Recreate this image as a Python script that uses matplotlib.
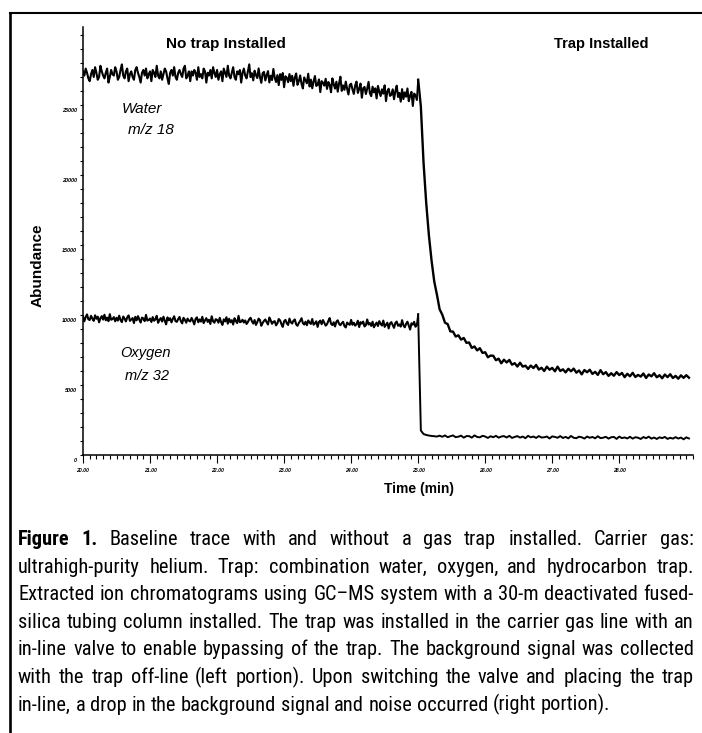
import os
import numpy as np
import matplotlib
matplotlib.use('Agg')
import matplotlib.pyplot as plt
import matplotlib.transforms as mtransforms
from matplotlib.lines import Line2D
from matplotlib.ticker import MultipleLocator
from matplotlib import font_manager
from matplotlib.font_manager import FontProperties

W, H = 702, 733

# scan times (min): trap off-line (every 0.02 min), then trap in-line (every 0.04 min)
t_pre = np.linspace(20.0, 24.98, 250)
t_post = np.linspace(25.0, 29.04, 102)

# m/z 18 (water) abundance
water_pre = [
    27400, 27100, 27600, 27300, 26900, 26700, 27200, 27500, 27000, 27700,
    27300, 26800, 27000, 27800, 27400, 27100, 26900, 27300, 27600, 26600,
    27000, 27500, 27200, 27100, 27700, 27400, 26800, 27000, 27500, 27900,
    27100, 26900, 27400, 27600, 26700, 27200, 27400, 27000, 26800, 27500,
    27700, 27300, 27000, 26600, 27300, 27500, 27100, 27600, 26900, 27200,
    27400, 26700, 27500, 27300, 27000, 27800, 27100, 26900, 27400, 26800,
    27200, 27600, 27400, 26900, 26500, 27300, 27500, 27100, 27700, 27000,
    26800, 27300, 27500, 27200, 27000, 27600, 27800, 26900, 27100, 27400,
    26700, 27400, 27100, 27500, 27300, 26800, 27700, 27000, 27200, 26900,
    27600, 27400, 26600, 27300, 27100, 27500, 26900, 27700, 27300, 27000,
    27500, 26800, 27200, 27400, 26700, 27600, 27300, 27000, 27800, 27100,
    26900, 27300, 27700, 27000, 26800, 27400, 27200, 27500, 26600, 27300,
    27600, 27100, 26900, 27400, 27900, 26990, 27270, 26760, 27450, 27135,
    26920, 27610, 27000, 26580, 27270, 27360, 26750, 27130, 27420, 26610,
    27090, 26780, 27570, 26960, 26640, 27130, 26420, 27200, 26790, 27280,
    26270, 27050, 26940, 26630, 27210, 26700, 27090, 26370, 26960, 27250,
    26440, 26720, 27110, 26500, 26180, 26970, 26760, 26550, 27230, 26320,
    26810, 26190, 26680, 27070, 26360, 26440, 26830, 25920, 26700, 26590,
    26380, 26870, 26150, 26640, 26430, 25910, 26900, 26490, 26170, 26660,
    25950, 26540, 27020, 26010, 26400, 26080, 26670, 26160, 25750, 26430,
    26520, 26110, 25790, 26380, 26670, 25860, 26140, 26530, 25520, 26200,
    26290, 25780, 26170, 26650, 25840, 25630, 26310, 25900, 26190, 25470,
    26360, 25950, 25640, 26120, 25810, 26400, 25280, 25970, 26160, 25650,
    25730, 26120, 25410, 25990, 26380, 25570, 25860, 25240, 26130, 25420,
    25900, 25590, 26180, 25270, 25650, 25940, 24930, 25810, 25700, 25390,
]
water_post = [
    26800, 24900, 20900, 18000, 15700, 13880, 12390, 11450, 10410, 10020,
    9450, 9350, 8830, 8810, 8460, 8550, 8240, 8360, 8010, 8040,
    7650, 7750, 7470, 7630, 7290, 7340, 6980, 7100, 7090, 6770,
    6880, 6550, 6810, 6610, 6790, 6450, 6560, 6320, 6590, 6310,
    6380, 6150, 6390, 6210, 6430, 6100, 6230, 6000, 6310, 6090,
    6220, 5980, 6310, 6000, 6120, 5900, 6160, 5980, 6170, 5880,
    6040, 5760, 6070, 5910, 6090, 5790, 5940, 5720, 6060, 5770,
    5920, 5650, 5840, 5660, 5920, 5710, 5860, 5560, 5800, 5620,
    5870, 5570, 5720, 5600, 5820, 5500, 5750, 5620, 5840, 5550,
    5700, 5480, 5750, 5560, 5770, 5500, 5650, 5450, 5690, 5510,
    5700, 5520,
]

# m/z 32 (oxygen) abundance
oxygen_pre = [
    9900, 9550, 9850, 10040, 9690, 9640, 9940, 9740, 9580, 9980,
    9730, 9880, 9480, 9770, 9920, 9670, 10020, 9620, 9810, 9560,
    10060, 9660, 9710, 9850, 9550, 9800, 9600, 9950, 9640, 9490,
    9890, 9740, 9540, 9830, 9970, 9580, 9680, 9780, 9420, 9870,
    9620, 9920, 9670, 9460, 9810, 9760, 9560, 10010, 9600, 9650,
    9750, 9500, 9850, 9590, 9690, 9940, 9440, 9640, 9780, 9530,
    9880, 9580, 9330, 9830, 9620, 9770, 9470, 9720, 9910, 9560,
    9510, 9710, 9860, 9550, 9400, 9800, 9650, 9450, 9740, 9590,
    9540, 9790, 9590, 9330, 9730, 9830, 9480, 9680, 9530, 9870,
    9420, 9620, 9770, 9510, 9660, 9360, 9910, 9560, 9450, 9700,
    9650, 9450, 9800, 9490, 9290, 9690, 9540, 9840, 9380, 9730,
    9480, 9630, 9320, 9770, 9570, 9420, 9940, 9490, 9520, 9660,
    9460, 9610, 9360, 9500, 9700, 9800, 9550, 9390, 9640, 9290,
    9490, 9740, 9640, 9230, 9430, 9580, 9680, 9480, 9320, 9820,
    9620, 9370, 9520, 9560, 9260, 9410, 9710, 9610, 9350, 9150,
    9550, 9650, 9400, 9290, 9740, 9490, 9390, 9590, 9680, 9330,
    9230, 9430, 9580, 9770, 9420, 9320, 9520, 9270, 9610, 9460,
    9360, 9710, 9310, 9400, 9550, 9150, 9500, 9600, 9340, 9640,
    9440, 9240, 9340, 9580, 9780, 9380, 9280, 9480, 9180, 9520,
    9620, 9370, 9270, 9410, 9510, 9210, 9110, 9460, 9360, 9300,
    9650, 9300, 9450, 9240, 9340, 9590, 9140, 9490, 9380, 9530,
    9180, 9280, 9680, 9320, 9420, 9220, 9520, 9120, 9310, 9460,
    9210, 9560, 9360, 9250, 9600, 9150, 9300, 9450, 9040, 9390,
    9490, 9290, 9080, 9430, 9530, 9230, 9330, 9170, 9630, 9270,
    9120, 9370, 9520, 9250, 8960, 9410, 9310, 9510, 9160, 9300,
]
oxygen_post = [
    10050, 1750, 1500, 1430, 1390, 1360, 1340, 1320, 1380, 1300,
    1400, 1270, 1340, 1400, 1270, 1310, 1380, 1240, 1350, 1350,
    1240, 1400, 1290, 1260, 1370, 1320, 1220, 1340, 1270, 1370,
    1240, 1320, 1350, 1250, 1370, 1220, 1291, 1350, 1240, 1320,
    1200, 1370, 1260, 1320, 1220, 1350, 1250, 1265, 1320, 1180,
    1330, 1290, 1230, 1350, 1215, 1295, 1190, 1360, 1230, 1200,
    1310, 1265, 1175, 1320, 1230, 1290, 1190, 1340, 1205, 1235,
    1300, 1170, 1270, 1290, 1150, 1315, 1205, 1255, 1180, 1300,
    1170, 1270, 1235, 1145, 1285, 1200, 1310, 1170, 1250, 1145,
    1265, 1205, 1290, 1150, 1230, 1170, 1275, 1175, 1245, 1120,
    1260, 1180,
]

x_ticks = [20, 21, 22, 23, 24, 25, 26, 27, 28]
x_tick_labels = ['20.00', '21.00', '22.00', '23.00', '24.00', '25.00', '26.00', '27.00', '28.00']
y_ticks = [0, 5000, 10000, 15000, 20000, 25000]
y_tick_labels = ['0', '5000', '10000', '15000', '20000', '25000']

caption_lines = [
    "Figure 1. Baseline trace with and without a gas trap installed. Carrier gas:",
    "ultrahigh-purity helium. Trap: combination water, oxygen, and hydrocarbon trap.",
    "Extracted ion chromatograms using GC\u2013MS system with a 30-m deactivated fused-",
    "silica tubing column installed. The trap was installed in the carrier gas line with an",
    "in-line valve to enable bypassing of the trap. The background signal was collected",
    "with the trap off-line (left portion). Upon switching the valve and placing the trap",
    "in-line, a drop in the background signal and noise occurred (right portion).",
]

plt.rcParams['font.family'] = ['Liberation Sans', 'DejaVu Sans']


def fx(x):
    return x / W


def fy(y):
    return 1 - y / H


fig = plt.figure(figsize=(W / 100, H / 100), dpi=100)
ax = fig.add_axes([fx(83), fy(455), 610 / W, 428 / H])

ax.plot(t_pre, water_pre, color='black', lw=1.5)
ax.plot([t_pre[-1], t_post[0]], [water_pre[-1], water_post[0]], color='black', lw=1.3)
ax.plot(t_post, water_post, color='black', lw=1.7)
ax.plot(t_pre, oxygen_pre, color='black', lw=1.5)
ax.plot([t_pre[-1], t_post[0]], [oxygen_pre[-1], oxygen_post[0]], color='black', lw=1.3)
ax.plot(t_post, oxygen_post, color='black', lw=1.4)

ax.set_xlim(20.0, 29.1)
ax.set_ylim(0, 30570)
for s in ['top', 'right']:
    ax.spines[s].set_visible(False)
for s in ['left', 'bottom']:
    ax.spines[s].set_linewidth(1.1)

ax.set_xticks(x_ticks, labels=x_tick_labels, fontsize=3.7, fontstyle='italic', fontweight='bold')
ax.set_yticks(y_ticks, labels=y_tick_labels, fontsize=4, fontstyle='italic', fontweight='bold')
ax.xaxis.set_minor_locator(MultipleLocator(0.1))
ax.yaxis.set_minor_locator(MultipleLocator(1000))
ax.tick_params(axis='x', which='major', direction='out', length=5.8, width=0.8, pad=3.5)
ax.tick_params(axis='x', which='minor', direction='out', length=2.9, width=0.8)
ax.tick_params(axis='y', which='both', direction='out', length=2.2, width=0.8, pad=2)

# y labels sit a little below their ticks in the original
offset = mtransforms.ScaledTranslation(0, -5 / 100, fig.dpi_scale_trans)
for lbl in ax.get_yticklabels():
    lbl.set_transform(lbl.get_transform() + offset)

fig.text(fx(38), fy(265), 'Abundance', rotation=90, fontsize=11, fontweight='bold',
         ha='center', va='center')
fig.text(fx(419), fy(489), 'Time (min)', fontsize=10, fontweight='bold', ha='center', va='center')
fig.text(fx(226), fy(44), 'No trap Installed', fontsize=11, fontweight='bold', ha='center', va='center')
fig.text(fx(601), fy(44), 'Trap Installed', fontsize=10.5, fontweight='bold', ha='center', va='center')

fig.text(fx(142), fy(109), 'Water', fontsize=11, fontstyle='italic', ha='center', va='center')
fig.text(fx(151), fy(130), 'm/z 18', fontsize=11, fontstyle='italic', ha='center', va='center')
fig.text(fx(145), fy(353), 'Oxygen', fontsize=10.5, fontstyle='italic', ha='center', va='center')
fig.text(fx(147), fy(376), 'm/z 32', fontsize=10.5, fontstyle='italic', ha='center', va='center')

# frame around the figure
fig.add_artist(Line2D([fx(10), fx(10)], [fy(13), fy(733)], color='black', lw=1.9))
fig.add_artist(Line2D([fx(10), fx(702)], [fy(13), fy(13)], color='black', lw=1.5))

# caption: justified, in a narrow sans face if one is installed
renderer = fig.canvas.get_renderer()
x0, x1 = 18, 694
baselines = [545, 572.6, 600.2, 627.8, 655.4, 683, 710.6]
target = 14.8

files = {os.path.basename(f.fname).lower(): f.fname for f in font_manager.fontManager.ttflist}
pairs = [
    ('notosans-condensed.ttf', 'notosans-condensedbold.ttf'),
    ('notosans-semicondensed.ttf', 'notosans-semicondensedbold.ttf'),
    ('liberationsansnarrow-regular.ttf', 'liberationsansnarrow-bold.ttf'),
    ('robotocondensed-regular.ttf', 'robotocondensed-bold.ttf'),
    ('lato-regular.ttf', 'lato-bold.ttf'),
    ('liberationsans-regular.ttf', 'liberationsans-bold.ttf'),
]


def fprop(path, size):
    if path is None:
        return FontProperties(family='DejaVu Sans', size=size)
    return FontProperties(fname=path, size=size)


def measure(txt, fp):
    t = fig.text(0, 0, txt, fontproperties=fp)
    w = t.get_window_extent(renderer=renderer).width
    t.remove()
    return w


def natural_widest(reg, size):
    fp = fprop(reg, size)
    sp = measure('a a', fp) - measure('aa', fp)
    return max(sum(measure(w, fp) for w in ln.split()) + sp * (len(ln.split()) - 1)
               for ln in caption_lines)


best = None
for reg_name, bold_name in pairs:
    if reg_name not in files:
        continue
    reg = files[reg_name]
    bold = files.get(bold_name, reg)
    fit = target * (x1 - x0) * 0.985 / natural_widest(reg, target)
    score = abs(np.log(fit / target))
    if best is None or score < best[0]:
        best = (score, reg, bold, fit)

if best is None:
    reg_path, bold_path = None, None
    fit = target * (x1 - x0) * 0.985 / natural_widest(None, target)
else:
    _, reg_path, bold_path, fit = best
size = min(target, fit)

fp_reg = fprop(reg_path, size)
fp_bold = fprop(bold_path, size)
if bold_path is None or bold_path == reg_path:
    fp_bold.set_weight('bold')
space = measure('a a', fp_reg) - measure('aa', fp_reg)

for i, line in enumerate(caption_lines):
    words = line.split()
    fps = [fp_bold if (i == 0 and k < 2) else fp_reg for k in range(len(words))]
    widths = [measure(w, fp) for w, fp in zip(words, fps)]
    last = i == len(caption_lines) - 1
    gap = space if last else (x1 - x0 - sum(widths)) / (len(words) - 1)
    x = x0
    for w, fp, wd in zip(words, fps, widths):
        fig.text(fx(x), fy(baselines[i]), w, fontproperties=fp, va='baseline', ha='left')
        x += wd + gap

fig.savefig('out.png', dpi=100)
